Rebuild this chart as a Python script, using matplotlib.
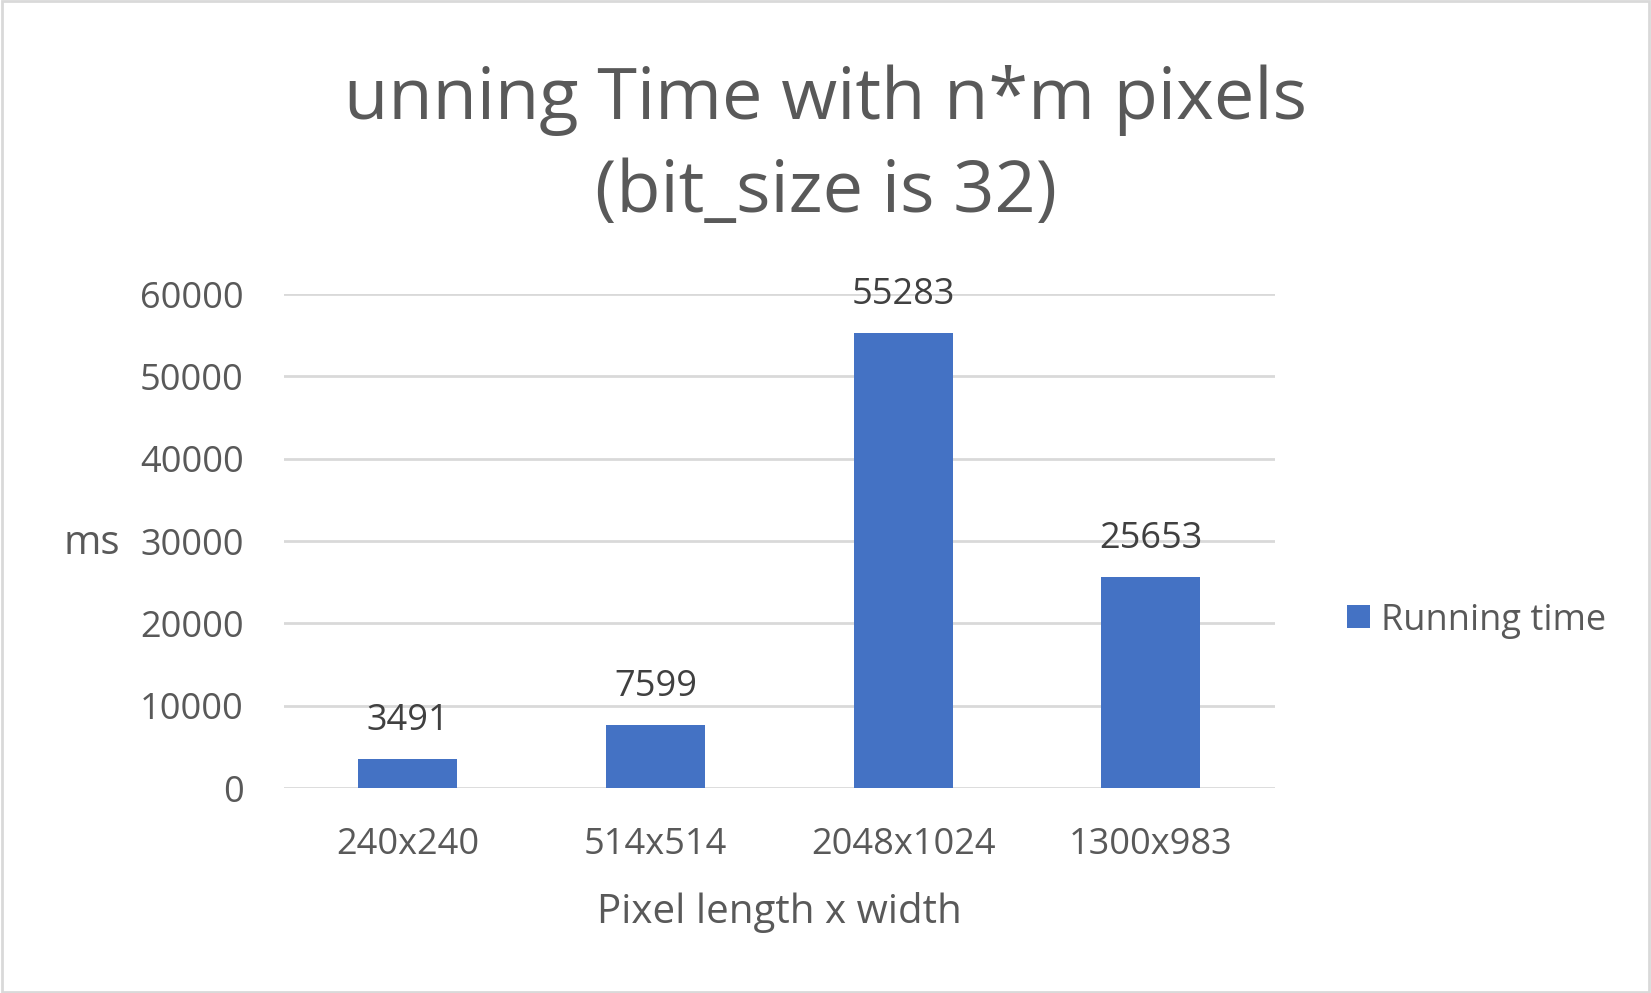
import matplotlib
matplotlib.use("Agg")
import matplotlib.pyplot as plt
from matplotlib.patches import Rectangle

# data
categories = ["240x240", "514x514", "2048x1024", "1300x983"]
running_time = [3491, 7599, 55283, 25653]
y_ticks = [0, 10000, 20000, 30000, 40000, 50000, 60000]

bar_color = "#4472C4"
text_color = "#595959"
grid_color = "#D9D9D9"

plt.rcParams['font.family'] = ['Open Sans', 'DejaVu Sans']

fig = plt.figure(figsize=(16.51, 9.93), dpi=100)
ax = fig.add_axes([0.172, 0.2064, 0.600, 0.4975])

x = list(range(len(categories)))
bars = ax.bar(x, running_time, width=0.4, color=bar_color, zorder=3,
              label="Running time")

# value labels above each bar
for xi, v in zip(x, running_time):
    ax.annotate(str(v), xy=(xi, v), xytext=(0, 21), textcoords='offset points',
                ha='center', va='baseline', fontsize=26, color="#404040")

ax.set_xlim(-0.5, len(categories) - 0.5)
ax.set_ylim(0, 60000)
ax.set_yticks(y_ticks)
ax.set_yticklabels([str(t) for t in y_ticks])
ax.set_xticks(x)
ax.set_xticklabels(categories)
ax.tick_params(axis='y', length=0, pad=29, labelsize=26, labelcolor=text_color)
ax.tick_params(axis='x', length=0, pad=28, labelsize=26, labelcolor=text_color)

ax.grid(axis='y', color=grid_color, linewidth=2, zorder=0)
for s in ax.spines.values():
    s.set_visible(False)

ax.set_xlabel("Pixel length x width", fontsize=29, color=text_color, va='center')
ax.xaxis.set_label_coords(0.5, -0.2515)

fig.text(0.0557, 0.452, "ms", fontsize=29, color=text_color, ha='center', va='center')

fig.text(0.5003, 0.852, "unning Time with n*m pixels\n(bit_size is 32)",
         fontsize=52, color=text_color, ha='center', va='center', linespacing=1.4)

fig.legend(handles=[bars], labels=["Running time"], loc='center left',
           bbox_to_anchor=(0.816, 0.375), bbox_transform=fig.transFigure,
           frameon=False, fontsize=26, labelcolor=text_color,
           handlelength=0.64, handleheight=0.6, handletextpad=0.3,
           borderpad=0, borderaxespad=0)

# light border around the chart area
fig.patches.append(Rectangle((0.001, 0.001), 0.998, 0.998, transform=fig.transFigure,
                             fill=False, edgecolor=grid_color, linewidth=2))

fig.savefig("out.png", dpi=100)
